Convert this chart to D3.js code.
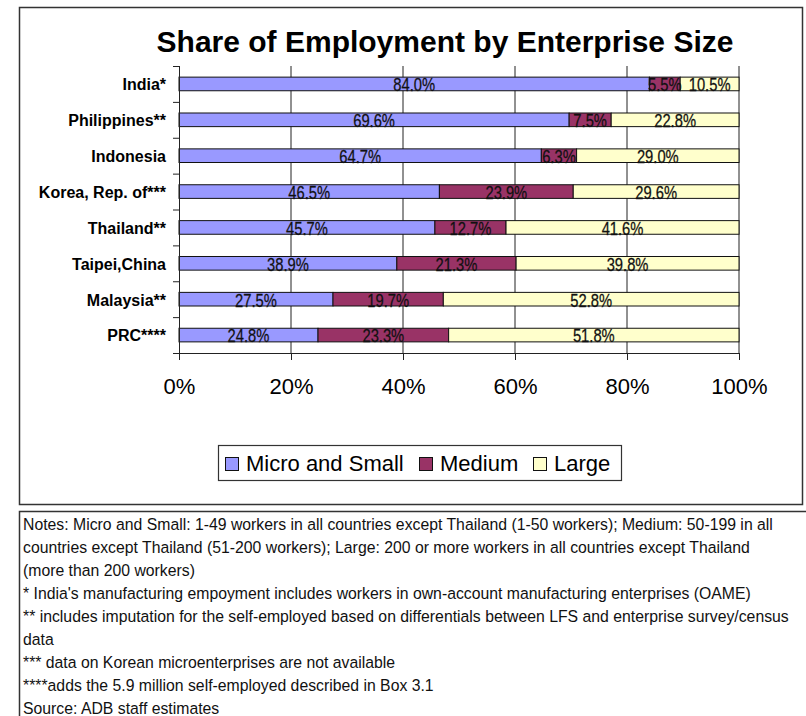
<!DOCTYPE html>
<html>
<head>
<meta charset="utf-8">
<script src="https://cdn.jsdelivr.net/npm/d3@7"></script>
<style>
  html, body { margin: 0; padding: 0; background: #fff; }
  svg { display: block; }
</style>
</head>
<body>
<svg id="chart" width="806" height="716"></svg>
<script>
// Economies shown, top to bottom
const countries = ["India*", "Philippines**", "Indonesia", "Korea, Rep. of***",
                   "Thailand**", "Taipei,China", "Malaysia**", "PRC****"];
// Share of employment (%) by enterprise size
const microSmall = [84.0, 69.6, 64.7, 46.5, 45.7, 38.9, 27.5, 24.8];
const medium     = [5.5, 7.5, 6.3, 23.9, 12.7, 21.3, 19.7, 23.3];
const large      = [10.5, 22.8, 29.0, 29.6, 41.6, 39.8, 52.8, 51.8];
const seriesNames = ["Micro and Small", "Medium", "Large"];
const xTicks = [0, 0.2, 0.4, 0.6, 0.8, 1.0];
const noteLines = [
  "Notes: Micro and Small: 1-49 workers in all countries except Thailand (1-50 workers); Medium: 50-199 in all",
  "countries except Thailand (51-200 workers); Large: 200 or more workers in all countries except Thailand",
  "(more than 200 workers)",
  "* India's manufacturing empoyment includes workers in own-account manufacturing enterprises (OAME)",
  "** includes imputation for the self-employed based on differentials between LFS and enterprise survey/census",
  "data",
  "*** data on Korean microenterprises are not available",
  "****adds the 5.9 million self-employed described in Box 3.1",
  "Source: ADB staff estimates"
];

const colors = { "Micro and Small": "#9999FF", "Medium": "#993366", "Large": "#FFFFCC" };
const seriesValues = { "Micro and Small": microSmall, "Medium": medium, "Large": large };

const rows = countries.map((c, i) => {
  const r = { country: c };
  seriesNames.forEach(s => r[s] = seriesValues[s][i]);
  return r;
});

const svg = d3.select("#chart");
const sans = "'Liberation Sans', Arial, Helvetica, sans-serif";

// Frames
svg.append("rect").attr("x", 19.5).attr("y", 7.5).attr("width", 783).attr("height", 497)
  .attr("fill", "#fff").attr("stroke", "#333").attr("stroke-width", 1.5);
svg.append("rect").attr("x", 19.5).attr("y", 511.5).attr("width", 800).attr("height", 220)
  .attr("fill", "#fff").attr("stroke", "#333").attr("stroke-width", 1.5);

// Title
svg.append("text").attr("x", 445).attr("y", 52).attr("text-anchor", "middle")
  .attr("font-family", sans).attr("font-weight", "bold").attr("font-size", 30)
  .attr("fill", "#000").text("Share of Employment by Enterprise Size");

const margin = { left: 179, right: 739, top: 66, bottom: 353 };
const x = d3.scaleLinear().domain([0, 1]).range([margin.left, margin.right]);
const y = d3.scaleBand().domain(countries).range([margin.top, margin.bottom])
  .paddingInner(0.62).paddingOuter(0.31);

const stacked = d3.stack().keys(seriesNames).offset(d3.stackOffsetExpand)(rows);

// Vertical gridlines
svg.append("g").selectAll("line").data(xTicks.slice(1)).join("line")
  .attr("x1", d => x(d)).attr("x2", d => x(d))
  .attr("y1", margin.top).attr("y2", margin.bottom)
  .attr("stroke", "#222").attr("stroke-width", 1);

// Bars
const g = svg.append("g");
stacked.forEach(layer => {
  g.append("g").selectAll("rect").data(layer).join("rect")
    .attr("x", d => x(d[0]))
    .attr("y", d => y(d.data.country))
    .attr("width", d => x(d[1]) - x(d[0]))
    .attr("height", y.bandwidth())
    .attr("fill", colors[layer.key])
    .attr("stroke", "#111").attr("stroke-width", 1);
});

// Segment labels, set in a condensed face
stacked.forEach(layer => {
  g.append("g").selectAll("text").data(layer).join("text")
    .attr("transform", d =>
      `translate(${(x(d[0]) + x(d[1])) / 2},${y(d.data.country) + y.bandwidth() + 0.5}) scale(0.82,1)`)
    .attr("text-anchor", "middle")
    .attr("font-family", sans).attr("font-size", 18)
    .attr("fill", "#111")
    .attr("stroke", "#111").attr("stroke-width", 0.25)
    .text(d => d.data[layer.key].toFixed(1) + "%");
});

// X axis
const xAxis = d3.axisBottom(x).tickValues(xTicks).tickFormat(d3.format(".0%"))
  .tickSize(7).tickPadding(18);
const xg = svg.append("g").attr("transform", `translate(0,${margin.bottom})`).call(xAxis);
xg.select(".domain").attr("stroke", "#222").attr("d", `M${margin.left - 6},0.5H${margin.right}`);
xg.selectAll(".tick line").attr("stroke", "#222");
xg.selectAll(".tick text").attr("font-family", sans).attr("font-size", 22).attr("fill", "#000");

// Y axis: line with ticks at category boundaries
const yg = svg.append("g");
yg.append("line").attr("x1", margin.left + 0.5).attr("x2", margin.left + 0.5)
  .attr("y1", margin.top).attr("y2", margin.bottom).attr("stroke", "#222");
const bounds = d3.range(countries.length).map(i => margin.top + i * y.step());
yg.selectAll("line.tk").data(bounds).join("line").attr("class", "tk")
  .attr("x1", margin.left - 6).attr("x2", margin.left)
  .attr("y1", d => d + 0.5).attr("y2", d => d + 0.5).attr("stroke", "#222");
yg.selectAll("text").data(countries).join("text")
  .attr("x", 166).attr("y", d => y(d) + y.bandwidth() - 0.5)
  .attr("text-anchor", "end").attr("font-family", sans).attr("font-weight", "bold")
  .attr("font-size", 16).attr("fill", "#000").text(d => d);

// Legend
const lg = svg.append("g");
lg.append("rect").attr("x", 218.5).attr("y", 445.5).attr("width", 403).attr("height", 35)
  .attr("fill", "#fff").attr("stroke", "#333").attr("stroke-width", 1.2);
const legendX = [225, 419, 533];
seriesNames.forEach((s, i) => {
  lg.append("rect").attr("x", legendX[i] + 0.5).attr("y", 457.5).attr("width", 13).attr("height", 13)
    .attr("fill", colors[s]).attr("stroke", "#111");
  lg.append("text").attr("x", legendX[i] + 21).attr("y", 471)
    .attr("font-family", sans).attr("font-size", 22).attr("fill", "#000").text(s);
});

// Notes
svg.append("g").selectAll("text").data(noteLines).join("text")
  .attr("transform", (d, i) => `translate(23,${530 + i * 23}) scale(0.94,1)`)
  .attr("font-family", sans).attr("font-size", 16.8).attr("fill", "#111")
  .text(d => d);
</script>
</body>
</html>
